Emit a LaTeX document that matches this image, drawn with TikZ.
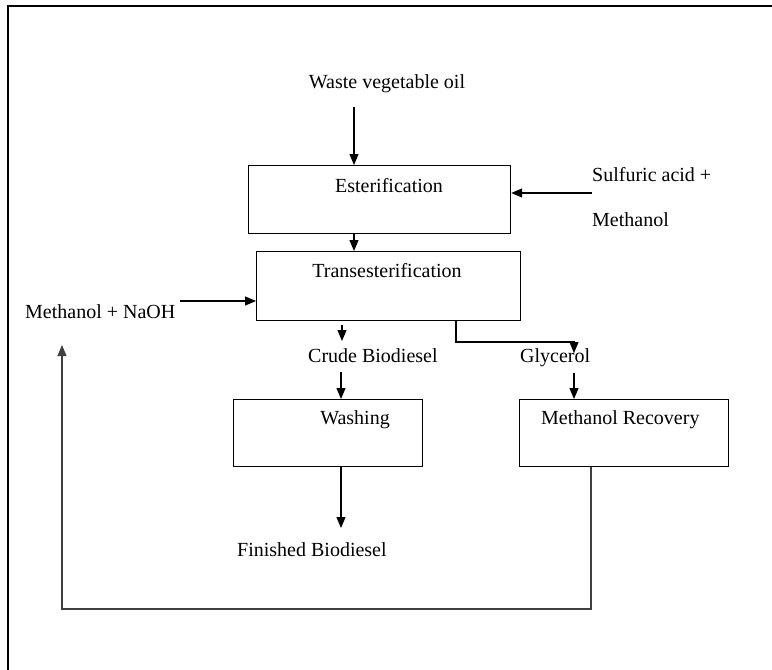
\documentclass[tikz,border=0pt]{standalone}
\usepackage{fontspec}
\setmainfont{Liberation Serif}
\usetikzlibrary{arrows.meta}
\begin{document}
\begin{tikzpicture}[x=1pt,y=-1pt,
  font=\fontsize{20}{24}\selectfont,
  box/.style={draw, line width=1.2pt, inner sep=0pt, anchor=north west},
  lbl/.style={inner sep=0pt, anchor=base west},
  lblc/.style={inner sep=0pt, anchor=base},
  tip/.style={-{Triangle[length=11pt,width=9pt]}},
  arr/.style={tip, line width=1.2pt},
  ln/.style={line width=1.2pt},
  rec/.style={line width=1.2pt, draw=black!75}]
\useasboundingbox (0,0) rectangle (772,670);
% frame
\draw[ln] (8,670) -- (8,6) -- (772,6);

% boxes
\node[box, minimum width=262pt, minimum height=68pt] (est) at (248,165) {};
\node[box, minimum width=264pt, minimum height=69pt] (trans) at (256,251) {};
\node[box, minimum width=189pt, minimum height=67pt] (wash) at (233,399) {};
\node[box, minimum width=209pt, minimum height=67pt] (mr) at (519,399) {};

% texts
\node[lblc] (waste) at (387,88) {Waste vegetable oil};
\node[lblc] (estt) at (389,192) {Esterification};
\node[lblc] (transt) at (387,277) {Transesterification};
\node[lbl] (sulf) at (592,181) {Sulfuric acid +};
\node[lbl] (meth) at (592,226) {Methanol};
\node[lbl] (naoh) at (25,318) {Methanol + NaOH};
\node[lbl] (crude) at (308,362) {Crude Biodiesel};
\node[lbl] (gly) at (520,362) {Glycerol};
\node[lblc] (washt) at (355,424) {Washing};
\node[lbl] (mrt) at (541,424) {Methanol Recovery};
\node[lbl] (fin) at (237,556) {Finished Biodiesel};

% free ends
\coordinate (w1) at (354,107);
\coordinate (s1) at (592,193);
\coordinate (n1) at (180,301);
\coordinate (c1) at (342,325);
\coordinate (c2) at (342,341);
\coordinate (c3) at (341,372);
\coordinate (f1) at (341,528);
\coordinate (g1) at (456,342);
\coordinate (g2) at (574,353);
\coordinate (g3) at (574,373);
\coordinate (r1) at (591,609);
\coordinate (r2) at (62,345);

% connectors
\draw[arr] (w1) -- (w1 |- est.north);
\draw[arr] (w1 |- est.south) -- (w1 |- trans.north);
\draw[arr] (s1) -- (s1 -| est.east);
\draw[arr] (n1) -- (n1 -| trans.west);
\draw[arr] (c1) -- (c2);
\draw[arr] (c3) -- (c3 |- wash.north);
\draw[arr] (c3 |- wash.south) -- (f1);
\draw[arr] (g1 |- trans.south) -- (g1) -| (g2);
\draw[arr] (g3) -- (g3 |- mr.north);
\draw[rec, tip] (r1 |- mr.south) -- (r1) -| (r2);
\end{tikzpicture}
\end{document}
